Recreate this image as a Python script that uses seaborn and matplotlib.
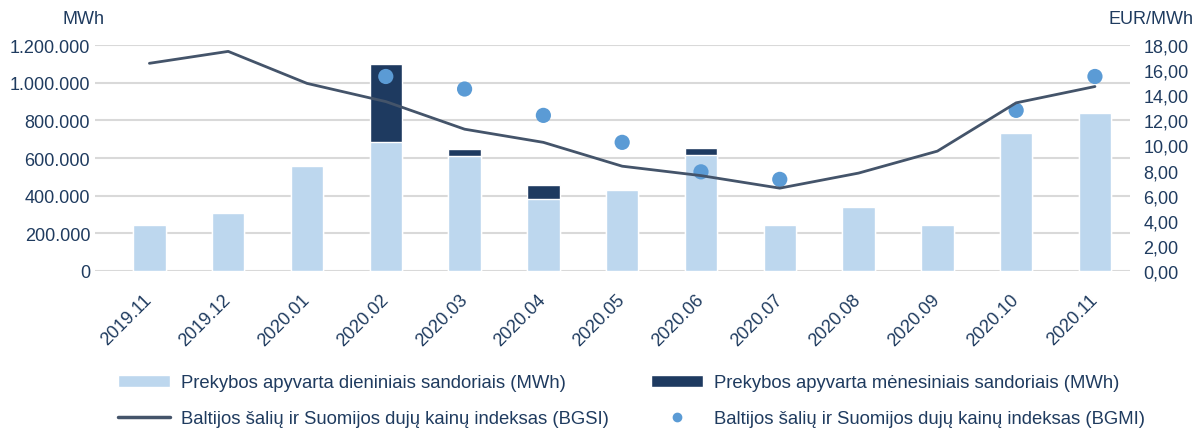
import numpy as np
import pandas as pd
import seaborn as sns
import matplotlib.pyplot as plt
import matplotlib.transforms as mtransforms
from matplotlib.patches import Patch
from matplotlib.lines import Line2D
from matplotlib.ticker import FuncFormatter

# data
months = ["2019.11", "2019.12", "2020.01", "2020.02", "2020.03", "2020.04", "2020.05",
          "2020.06", "2020.07", "2020.08", "2020.09", "2020.10", "2020.11"]
daily = [245000, 308000, 558000, 685000, 610000, 382000, 430000,
         616000, 244000, 340000, 244000, 733000, 839000]
monthly = [0, 0, 0, 414000, 38000, 75000, 0, 37000, 0, 0, 0, 0, 0]
bgsi = [16.55, 17.5, 14.95, 13.5, 11.3, 10.25, 8.35, 7.6, 6.6, 7.8, 9.55, 13.4, 14.7]
bgmi = [np.nan, np.nan, np.nan, 15.5, 14.5, 12.4, 10.25, 7.9, 7.3, np.nan, np.nan, 12.8, 15.5]

light = "#BDD7EE"
dark = "#1E3A60"
line_col = "#44546A"
dot_col = "#5B9BD5"
txt = "#1F3B5F"

sns.set_style("white")
plt.rcParams["font.family"] = ["Liberation Sans", "DejaVu Sans"]

df = pd.DataFrame({"month": months, "daily": daily, "monthly": monthly})
df["total"] = df["daily"] + df["monthly"]

fig = plt.figure(figsize=(12.03, 4.31), dpi=100)
ax = fig.add_axes([0.079, 0.369, 0.860, 0.524])

# stacked look: total in dark, daily drawn over it in light
sns.barplot(data=df, x="month", y="total", color=dark, width=0.41, saturation=1, ax=ax)
sns.barplot(data=df, x="month", y="daily", color=light, width=0.41, saturation=1, ax=ax)

ax.set_ylim(0, 1200000)
ax.set_yticks(np.arange(0, 1200001, 200000))
ax.yaxis.set_major_formatter(FuncFormatter(lambda v, p: f"{int(v):,}".replace(",", ".")))
ax.grid(axis="y", color="#D9D9D9", linewidth=1.5)
ax.set_axisbelow(True)
for s in ax.spines.values():
    s.set_visible(False)
ax.set_xlabel("")
ax.set_ylabel("")
ax.tick_params(axis="both", length=0, labelsize=13, colors=txt)
ax.tick_params(axis="x", pad=14)
ax.set_xlim(-0.69, len(months) - 0.56)
shift = mtransforms.ScaledTranslation(-6 / 100, 0, fig.dpi_scale_trans)
for lab in ax.get_xticklabels():
    lab.set_rotation(45)
    lab.set_ha("right")
    lab.set_rotation_mode("anchor")
    lab.set_transform(lab.get_transform() + shift)

ax2 = ax.twinx()
x = np.arange(len(months))
sns.lineplot(x=x, y=bgsi, color=line_col, linewidth=2, ax=ax2)
sns.scatterplot(x=x, y=bgmi, color=dot_col, s=120, edgecolor="none", ax=ax2)
ax2.set_ylim(0, 18)
ax2.set_yticks(np.arange(0, 18.1, 2))
ax2.yaxis.set_major_formatter(FuncFormatter(lambda v, p: f"{v:.2f}".replace(".", ",")))
ax2.tick_params(axis="y", length=0, labelsize=13, colors=txt, pad=10)
for s in ax2.spines.values():
    s.set_visible(False)
ax2.set_ylabel("")

fig.text(0.052, 0.945, "MWh", fontsize=13, color=txt)
fig.text(0.992, 0.945, "EUR/MWh", fontsize=13, color=txt, ha="right")

handles = [
    Patch(facecolor=light, label="Prekybos apyvarta dieniniais sandoriais (MWh)"),
    Line2D([], [], color=line_col, linewidth=2.5, label="Baltijos šalių ir Suomijos dujų kainų indeksas (BGSI)"),
    Patch(facecolor=dark, label="Prekybos apyvarta mėnesiniais sandoriais (MWh)"),
    Line2D([], [], color=dot_col, marker="o", linestyle="none", markersize=6,
           label="Baltijos šalių ir Suomijos dujų kainų indeksas (BGMI)"),
]
fig.legend(handles=handles, ncol=2, loc="center left", bbox_to_anchor=(0.0906, 0.068),
           frameon=False, fontsize=13.3, labelcolor=txt, handlelength=2.8,
           columnspacing=2.3, labelspacing=1.0, handletextpad=0.6, borderpad=0,
           handleheight=0.6)

fig.savefig("out.png", dpi=100)
